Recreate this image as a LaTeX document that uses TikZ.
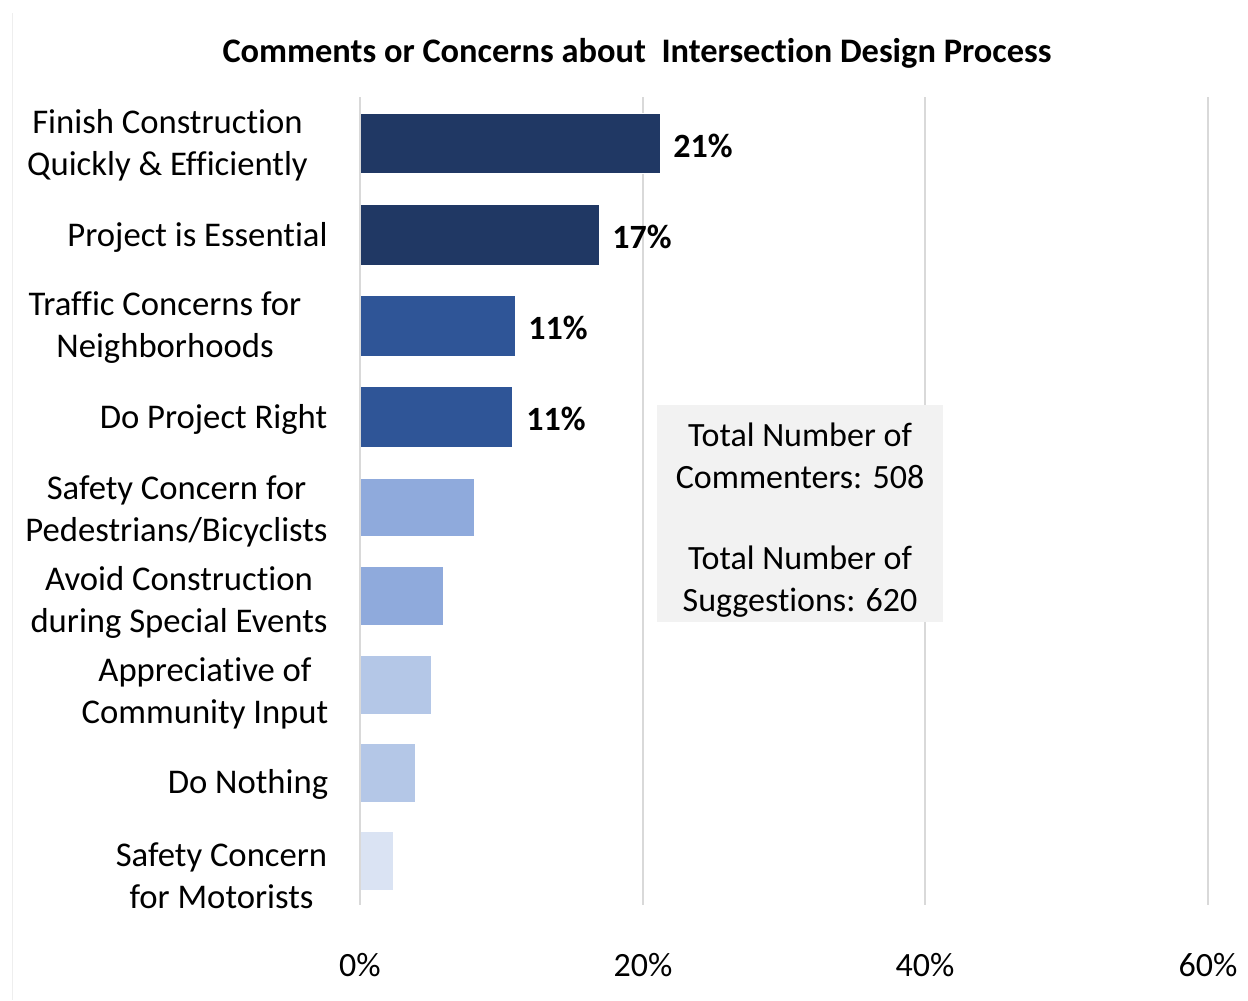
\documentclass[tikz,border=0pt]{standalone}
\usepackage{fontspec}
\setmainfont{Carlito}[Ligatures=NoCommon]
\definecolor{cA}{HTML}{203864}
\definecolor{cB}{HTML}{2F5597}
\definecolor{cC}{HTML}{8FAADC}
\definecolor{cD}{HTML}{B4C7E7}
\definecolor{cE}{HTML}{DAE3F3}
\definecolor{gridc}{HTML}{D9D9D9}
\definecolor{boxc}{HTML}{F2F2F2}
\definecolor{framec}{HTML}{EEEEEE}
\tikzset{
  catlabel/.style={align=center, inner sep=0pt, font=\fontsize{26}{31.5}\selectfont},
  vallabel/.style={anchor=west, inner sep=0pt, font=\fontsize{25.5}{31.5}\selectfont\bfseries},
  axlabel/.style={inner sep=0pt, font=\fontsize{25.5}{31.5}\selectfont},
  gridline/.style={draw=gridc, line width=1.5pt},
  barbox/.style={draw=white, line width=0.4pt},
  infobox/.style={fill=boxc, inner sep=0pt},
  infotext/.style={align=center, inner sep=0pt, font=\fontsize{25.5}{31.5}\selectfont},
  titletext/.style={inner sep=0pt, font=\fontsize{25.8}{30}\selectfont\bfseries}
}
\begin{document}
\begin{tikzpicture}[x=0.75pt, y=-0.75pt]
\useasboundingbox[fill=white] (0,0) rectangle (1248,1000);
% frame edge
\draw[draw=framec, line width=0.75pt] (12,13) -- (12,1000);
% title
\node[titletext] (title) at (637,53) {Comments or Concerns about \ Intersection Design Process};
% gridlines
\foreach \gx/\gn in {643/g20, 925/g40, 1208/g60} {
  \coordinate (\gn top) at (\gx,97);
  \coordinate (\gn bot) at (\gx,905);
  \draw[gridline] (\gn top) -- (\gn bot);
}
% info box
\path[infobox] (657,405) rectangle (943,622);
\node[infotext] (info1) at (800,456) {Total Number of\\Commenters: 508};
\node[infotext] (info2) at (800,582) {Total Number of\\Suggestions: 620};
% bars
\path[barbox, fill=cA] (360,113) rectangle (660,173.3);
\path[barbox, fill=cA] (360,204.7) rectangle (599,265.5);
\path[barbox, fill=cB] (360,295.7) rectangle (515,356.7);
\path[barbox, fill=cB] (360,386.7) rectangle (512,447.7);
\path[barbox, fill=cC] (360,478.3) rectangle (474,536.3);
\path[barbox, fill=cC] (360,566.7) rectangle (443,625.7);
\path[barbox, fill=cD] (360,655) rectangle (431.7,714);
\path[barbox, fill=cD] (360,743.3) rectangle (415,802);
\path[barbox, fill=cE] (360,831) rectangle (393,890.3);
% axis line
\coordinate (g0top) at (360,97);
\coordinate (g0bot) at (360,905);
\draw[gridline] (g0top) -- (g0bot);
% value labels
\node[vallabel] (v1) at (673,146) {21\%};
\node[vallabel] (v2) at (612,237) {17\%};
\node[vallabel] (v3) at (528,328) {11\%};
\node[vallabel] (v4) at (526,419) {11\%};
% category labels
\node[catlabel] (c1) at (167.5,145) {Finish Construction\\Quickly \& Efficiently};
\node[catlabel] (c2) at (197.5,237) {Project is Essential};
\node[catlabel] (c3) at (165,328) {Traffic Concerns for\\Neighborhoods};
\node[catlabel] (c4) at (213.5,419) {Do Project Right};
\node[catlabel] (c5) at (176.5,511) {Safety Concern for\\Pedestrians/Bicyclists};
\node[catlabel] (c6) at (179,602) {Avoid Construction\\during Special Events};
\node[catlabel] (c7) at (205,693) {Appreciative of\\Community Input};
\node[catlabel] (c8) at (248,784) {Do Nothing};
\node[catlabel] (c9) at (221.5,876) {Safety Concern\\for Motorists};
% axis labels
\node[axlabel] (a0) at (360,965) {0\%};
\node[axlabel] (a20) at (643,965) {20\%};
\node[axlabel] (a40) at (925,965) {40\%};
\node[axlabel] (a60) at (1208,965) {60\%};
\end{tikzpicture}
\end{document}
